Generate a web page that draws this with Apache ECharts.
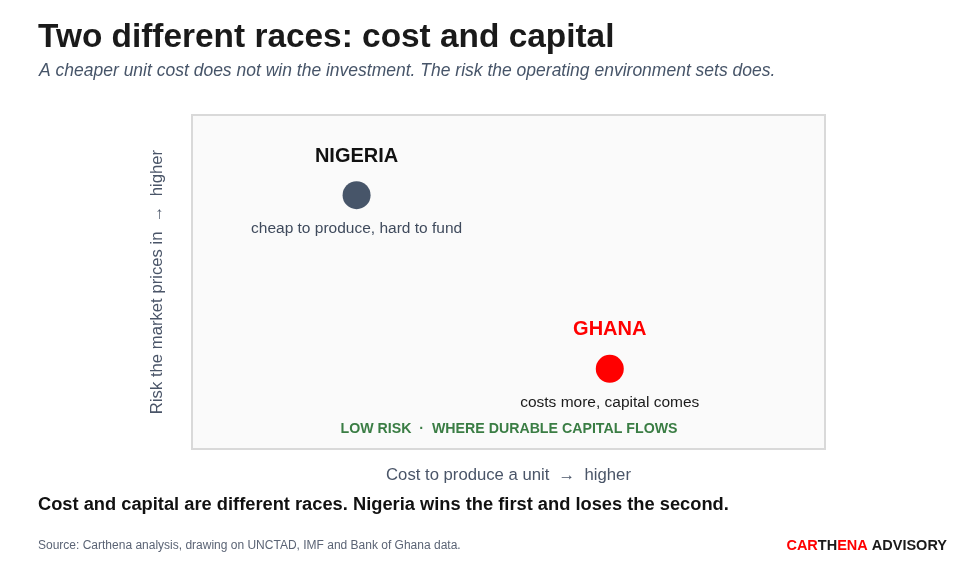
<!DOCTYPE html>
<html>
<head>
<meta charset="utf-8">
<script src="https://cdn.jsdelivr.net/npm/echarts@6/dist/echarts.min.js"></script>
<style>
html,body{margin:0;padding:0;background:#fff;}
#c{width:960px;height:576px;}
</style>
</head>
<body>
<div id="c"></div>
<script>
var countries = ['NIGERIA', 'GHANA'];
var costValues = [2.6, 6.6];
var riskValues = [7.6, 2.4];
var notes = ['cheap to produce, hard to fund', 'costs more, capital comes'];
var pointColors = ['#475569', '#ff0000'];
var nameColors = ['#111111', '#ff0000'];
var noteColors = ['#3f4a5c', '#1a1a1a'];

var chart = echarts.init(document.getElementById('c'));
var font = 'Liberation Sans, Arial, sans-serif';

var mainData = countries.map(function (c, i) {
  return {
    name: c,
    value: [costValues[i], riskValues[i]],
    itemStyle: { color: pointColors[i], opacity: 1 },
    label: { color: nameColors[i] }
  };
});
var noteData = countries.map(function (c, i) {
  return {
    name: notes[i],
    value: [costValues[i], riskValues[i]],
    label: { color: noteColors[i] }
  };
});

chart.setOption({
  backgroundColor: '#ffffff',
  animation: false,
  textStyle: { fontFamily: font },
  title: [
    { text: 'Two different races: cost and capital', left: 38, top: 21, padding: 0,
      textStyle: { fontSize: 33.4, fontWeight: 'bold', color: '#1a1a1a', fontFamily: font } },
    { text: 'A cheaper unit cost does not win the investment. The risk the operating environment sets does.', left: 39, top: 62, padding: 0,
      textStyle: { fontSize: 17.5, fontStyle: 'italic', fontWeight: 'normal', color: '#475569', fontFamily: font } },
    { text: 'Cost and capital are different races. Nigeria wins the first and loses the second.', left: 38, top: 496, padding: 0,
      textStyle: { fontSize: 18.3, fontWeight: 'bold', color: '#111111', fontFamily: font } },
    { text: 'Source: Carthena analysis, drawing on UNCTAD, IMF and Bank of Ghana data.', left: 38, top: 540, padding: 0,
      textStyle: { fontSize: 12, fontWeight: 'normal', color: '#5b6475', fontFamily: font } },
    { text: '{r|CAR}{d|TH}{r|ENA}{d| ADVISORY}', right: 13, top: 538, padding: 0,
      textStyle: { rich: {
        r: { fontSize: 14.5, fontWeight: 'bold', color: '#ff0000', fontFamily: font },
        d: { fontSize: 14.5, fontWeight: 'bold', color: '#1a1a1a', fontFamily: font }
      } } },
    { text: 'LOW RISK  ·  WHERE DURABLE CAPITAL FLOWS', left: 509, top: 422, padding: 0, textAlign: 'center',
      textStyle: { fontSize: 14.2, fontWeight: 'bold', color: '#3a7d44', fontFamily: font } }
  ],
  grid: {
    left: 192, right: 135, top: 115, bottom: 127,
    show: true, backgroundColor: '#fafafa', borderColor: '#d9d9d9', borderWidth: 2
  },
  xAxis: {
    type: 'value', min: 0, max: 10,
    name: 'Cost to produce a unit  \u2192  higher',
    nameLocation: 'middle', nameGap: 17.5,
    nameTextStyle: { fontSize: 16.7, color: '#4a5568', fontFamily: font },
    axisLine: { show: false }, axisTick: { show: false },
    axisLabel: { show: false }, splitLine: { show: false }
  },
  yAxis: {
    type: 'value', min: 0, max: 10,
    name: 'Risk the market prices in  \u2192  higher',
    nameLocation: 'middle', nameGap: 26.5,
    nameTextStyle: { fontSize: 16.7, color: '#4a5568', fontFamily: font },
    axisLine: { show: false }, axisTick: { show: false },
    axisLabel: { show: false }, splitLine: { show: false }
  },
  series: [
    {
      type: 'scatter', symbolSize: 28, data: mainData,
      label: { show: true, position: 'top', distance: 15, formatter: '{b}',
        fontSize: 20, fontWeight: 'bold', fontFamily: font },
      emphasis: { disabled: true }, z: 3
    },
    {
      type: 'scatter', symbolSize: 28, data: noteData,
      itemStyle: { color: 'rgba(0,0,0,0)', opacity: 1 },
      label: { show: true, position: 'bottom', distance: 12, formatter: '{b}',
        fontSize: 15.5, fontFamily: font },
      emphasis: { disabled: true }, z: 2, silent: true
    }
  ]
});
</script>
</body>
</html>
